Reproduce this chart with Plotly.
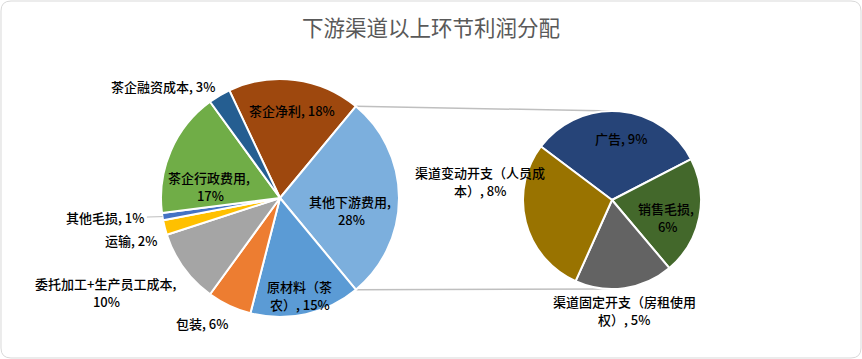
import math
import plotly.graph_objects as go

# ---------------- data ----------------
title_text = "下游渠道以上环节利润分配"
main_labels = ["茶企净利", "其他下游费用", "原材料（茶农）", "包装", "委托加工+生产员工成本",
               "运输", "其他毛损", "茶企行政费用", "茶企融资成本"]
main_values = [18, 28, 15, 6, 10, 2, 1, 17, 3]
split_label = "其他下游费用"
sub_labels = ["广告", "销售毛损", "渠道固定开支（房租使用权）", "渠道变动开支（人员成本）"]
sub_values = [9, 6, 5, 8]

# ---------------- style ----------------
W, H = 862, 359
main_colors = ["#9E480E", "#7CAFDD", "#5B9BD5", "#ED7D31", "#A5A5A5",
               "#FFC000", "#4472C4", "#70AD47", "#255E91"]
sub_colors = ["#264478", "#43682B", "#636363", "#997300"]
main_center, main_r = (280, 198), 119
sub_center, sub_r = (612, 200), 89
sub_rotation = 307
# label anchor: (angle from north clockwise, radius factor), break index in label text
main_lab_pos = [(8, 0.74), (99.7, 0.6), (168.5, 0.84), (212, 1.24), (241.5, 1.67),
                (254, 1.3), (263.8, 1.48), (279, 0.6), (313.7, 1.36)]
main_break = [None, 7, 5, None, 12, None, None, 7, None]
sub_lab_pos = [(8.3, 0.70), (107.5, 0.64), (173.8, 1.25), (277.8, 1.50)]
sub_break = [None, 5, 11, 10]
line_gap = 18
font_family = "Noto Sans CJK SC"
label_font = dict(family=font_family, size=13, color="#000000", weight=500)


def px2paper(x, y):
    return x / W, 1 - y / H


def domain(center, r):
    cx, cy = center
    return dict(x=[(cx - r) / W, (cx + r) / W], y=[1 - (cy + r) / H, 1 - (cy - r) / H])


def polar(center, r, ang):
    a = math.radians(ang)
    return center[0] + r * math.sin(a), center[1] - r * math.cos(a)


def lines(name, v, brk):
    s = f"{name}, {v}%"
    if brk is None:
        return [s]
    return [s[:brk], s[brk:]]


total = sum(main_values)
idx = main_labels.index(split_label)
before = sum(main_values[:idx])
split_start = 90 - main_values[idx] / total * 360 / 2
main_rotation = (split_start - before / total * 360) % 360
split_end = split_start + main_values[idx] / total * 360

fig = go.Figure()
fig.add_trace(go.Pie(labels=main_labels, values=main_values, sort=False, direction="clockwise",
                     rotation=main_rotation, textinfo="none", hoverinfo="label+percent",
                     marker=dict(colors=main_colors, line=dict(color="white", width=2)),
                     domain=domain(main_center, main_r), showlegend=False))
fig.add_trace(go.Pie(labels=sub_labels, values=sub_values, sort=False, direction="clockwise",
                     rotation=sub_rotation, textinfo="none", hoverinfo="label+value",
                     marker=dict(colors=sub_colors, line=dict(color="white", width=2)),
                     domain=domain(sub_center, sub_r), showlegend=False))

shapes = []
# chart border (rounded)
rr = 10
x0, y0, x1, y1 = 1, 1, W - 1, H - 1
def P(x, y):
    a, b = px2paper(x, y)
    return f"{a:.5f},{b:.5f}"
path = (f"M {P(x0 + rr, y0)} L {P(x1 - rr, y0)} Q {P(x1, y0)} {P(x1, y0 + rr)} "
        f"L {P(x1, y1 - rr)} Q {P(x1, y1)} {P(x1 - rr, y1)} L {P(x0 + rr, y1)} "
        f"Q {P(x0, y1)} {P(x0, y1 - rr)} L {P(x0, y0 + rr)} Q {P(x0, y0)} {P(x0 + rr, y0)} Z")
shapes.append(dict(type="path", xref="paper", yref="paper", path=path,
                   line=dict(color="#D9D9D9", width=1), layer="below"))

# connector lines
for ang, sy in ((split_start, -1), (split_end, 1)):
    ax, ay = polar(main_center, main_r, ang)
    bx, by = sub_center[0], sub_center[1] + sy * sub_r
    p0 = px2paper(ax, ay)
    p1 = px2paper(bx, by)
    shapes.append(dict(type="line", xref="paper", yref="paper", x0=p0[0], y0=p0[1],
                       x1=p1[0], y1=p1[1], line=dict(color="#BFBFBF", width=1.5), layer="below"))

annotations = [dict(text=title_text, xref="paper", yref="paper", x=0.5, y=1 - 27 / H,
                    showarrow=False, xanchor="center", yanchor="middle",
                    font=dict(family=font_family, size=21.5, color="#595959"))]


def add_label(center, r, name, v, pos, brk):
    ang, f = pos
    x, y = polar(center, r * f, ang)
    ls = lines(name, v, brk)
    n = len(ls)
    for k, t in enumerate(ls):
        yy = y + (k - (n - 1) / 2) * line_gap
        px, py = px2paper(x, yy)
        annotations.append(dict(text=t, xref="paper", yref="paper", x=px, y=py,
                                showarrow=False, xanchor="center", yanchor="middle",
                                font=label_font))


for name, v, pos, brk in zip(main_labels, main_values, main_lab_pos, main_break):
    add_label(main_center, main_r, name, v, pos, brk)
for name, v, pos, brk in zip(sub_labels, sub_values, sub_lab_pos, sub_break):
    add_label(sub_center, sub_r, name, v, pos, brk)

# leader line for the tiny slice
i_small = main_values.index(min(main_values))
cum = sum(main_values[:i_small]) + main_values[i_small] / 2
mid_ang = main_rotation + cum / total * 360
ex, ey = polar(main_center, main_r, mid_ang)
lx, ly = polar(main_center, main_r * main_lab_pos[i_small][1], main_lab_pos[i_small][0])
q0 = px2paper(ex, ey)
q1 = px2paper(lx + 42, ly)
shapes.append(dict(type="line", xref="paper", yref="paper", x0=q0[0], y0=q0[1], x1=q1[0], y1=q1[1],
                   line=dict(color="#BFBFBF", width=1)))

fig.update_layout(width=W, height=H, margin=dict(l=0, r=0, t=0, b=0),
                  paper_bgcolor="white", plot_bgcolor="white",
                  shapes=shapes, annotations=annotations)
fig.write_html("out.html", config={"displayModeBar": False},
               post_script="document.body.style.margin='0';document.body.style.overflow='hidden';")
